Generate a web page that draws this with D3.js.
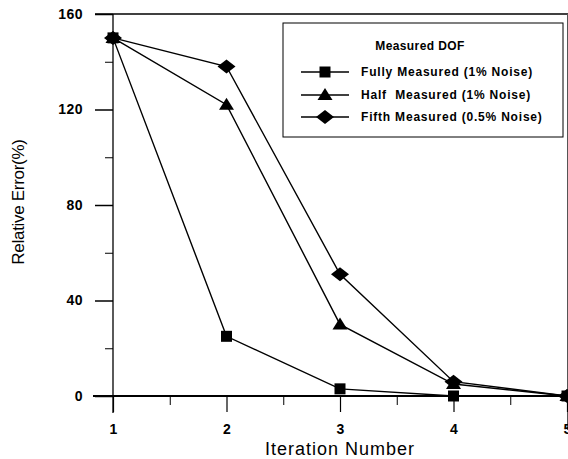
<!DOCTYPE html>
<html lang="en">
<head>
<meta charset="utf-8">
<title>Relative Error vs Iteration</title>
<script src="https://d3js.org/d3.v7.min.js"></script>
<style>
  body { margin: 0; background: #fff; }
  text { font-family: Arial, "Liberation Sans", sans-serif; white-space: pre; }
</style>
</head>
<body>
<script>
const iterations = [1, 2, 3, 4, 5];
const fullyMeasured = [150, 25, 3, 0, 0];
const halfMeasured = [150, 122, 30, 5, 0];
const fifthMeasured = [150, 138, 51, 6, 0];
const yTicks = [0, 40, 80, 120, 160];
const seriesNames = ["Fully Measured (1% Noise)", "Half  Measured (1% Noise)", "Fifth Measured (0.5% Noise)"];

const width = 568, height = 459;
const svg = d3.select("body").append("svg")
  .attr("width", width).attr("height", height);

const x = d3.scaleLinear().domain([1, 5]).range([113, 567]);
const y = d3.scaleLinear().domain([0, 160]).range([396, 14]);

// marker shapes
const shapes = {
  square: "M-5.5,-5.5H5.5V5.5H-5.5Z",
  triangle: "M0,-7L7.5,5H-7.5Z",
  diamond: "M-9,0L0,-7L9,0L0,7Z"
};

// frame lines
svg.append("line").attr("x1", 95).attr("x2", width).attr("y1", y(160)).attr("y2", y(160))
  .attr("stroke", "#000").attr("stroke-width", 1.5);
svg.append("line").attr("x1", 93).attr("x2", width).attr("y1", y(0)).attr("y2", y(0))
  .attr("stroke", "#000").attr("stroke-width", 2);
svg.append("line").attr("x1", x(1)).attr("x2", x(1)).attr("y1", y(160)).attr("y2", 413)
  .attr("stroke", "#000").attr("stroke-width", 1.3);
svg.append("line").attr("x1", 567.5).attr("x2", 567.5).attr("y1", y(160)).attr("y2", 430)
  .attr("stroke", "#555").attr("stroke-width", 1);

// y ticks
const yAxis = d3.axisLeft(y).tickValues(yTicks).tickSize(18).tickPadding(12);
const gy = svg.append("g").attr("transform", `translate(${x(1)},0)`).call(yAxis);
gy.select(".domain").remove();
gy.selectAll("line").attr("stroke-width", 1.5);
gy.selectAll("text").attr("font-size", 14).attr("font-weight", "bold")
  .attr("letter-spacing", 0.5).attr("fill", "#000");
const yMinor = d3.axisLeft(y).tickValues([20, 60, 100, 140]).tickSize(8).tickFormat("");
const gym = svg.append("g").attr("transform", `translate(${x(1)},0)`).call(yMinor);
gym.select(".domain").remove();

// x ticks
const xAxis = d3.axisBottom(x).tickValues(iterations).tickSize(16).tickPadding(12).tickFormat(d3.format("d"));
const gx = svg.append("g").attr("transform", `translate(0,${y(0)})`).call(xAxis);
gx.select(".domain").remove();
gx.selectAll("line").attr("stroke-width", 1.2);
gx.selectAll("text").attr("font-size", 14).attr("font-weight", "bold").attr("fill", "#000");
const xMinor = d3.axisBottom(x).tickValues([1.5, 2.5, 3.5, 4.5]).tickSize(9).tickFormat("");
const gxm = svg.append("g").attr("transform", `translate(0,${y(0)})`).call(xMinor);
gxm.select(".domain").remove();

// axis titles
svg.append("text").attr("x", 340).attr("y", 455).attr("text-anchor", "middle")
  .attr("font-size", 18).attr("letter-spacing", 1).text("Iteration Number");
svg.append("text").attr("transform", "translate(24,202) rotate(-90)").attr("text-anchor", "middle")
  .attr("font-size", 17).attr("letter-spacing", -0.3).text("Relative Error(%)");

// series
const line = d3.line().x((d, i) => x(iterations[i])).y(d => y(d));
const series = [
  { values: fullyMeasured, shape: shapes.square },
  { values: halfMeasured, shape: shapes.triangle },
  { values: fifthMeasured, shape: shapes.diamond }
];
series.forEach(s => {
  svg.append("path").datum(s.values).attr("d", line)
    .attr("fill", "none").attr("stroke", "#000").attr("stroke-width", 1.4);
});
series.forEach(s => {
  svg.selectAll(null).data(s.values).join("path")
    .attr("transform", (d, i) => `translate(${x(iterations[i])},${y(d)})`)
    .attr("d", s.shape).attr("fill", "#000");
});

// legend
const lg = svg.append("g");
lg.append("rect").attr("x", 283).attr("y", 23).attr("width", 280).attr("height", 114)
  .attr("fill", "#fff").attr("stroke", "#000").attr("stroke-width", 1);
lg.append("text").attr("x", 420).attr("y", 50).attr("text-anchor", "middle")
  .attr("font-size", 12).attr("font-weight", "bold").attr("letter-spacing", 0.4).text("Measured DOF");
const rows = [72, 95, 117];
series.forEach((s, i) => {
  lg.append("line").attr("x1", 301).attr("x2", 349).attr("y1", rows[i]).attr("y2", rows[i])
    .attr("stroke", "#000").attr("stroke-width", 1.4);
  lg.append("path").attr("transform", `translate(325,${rows[i]})`)
    .attr("d", s.shape).attr("fill", "#000");
  lg.append("text").attr("x", 361).attr("y", rows[i] + 4)
    .attr("font-size", 12).attr("font-weight", "bold").attr("letter-spacing", 0.8)
    .text(seriesNames[i]);
});
</script>
</body>
</html>
